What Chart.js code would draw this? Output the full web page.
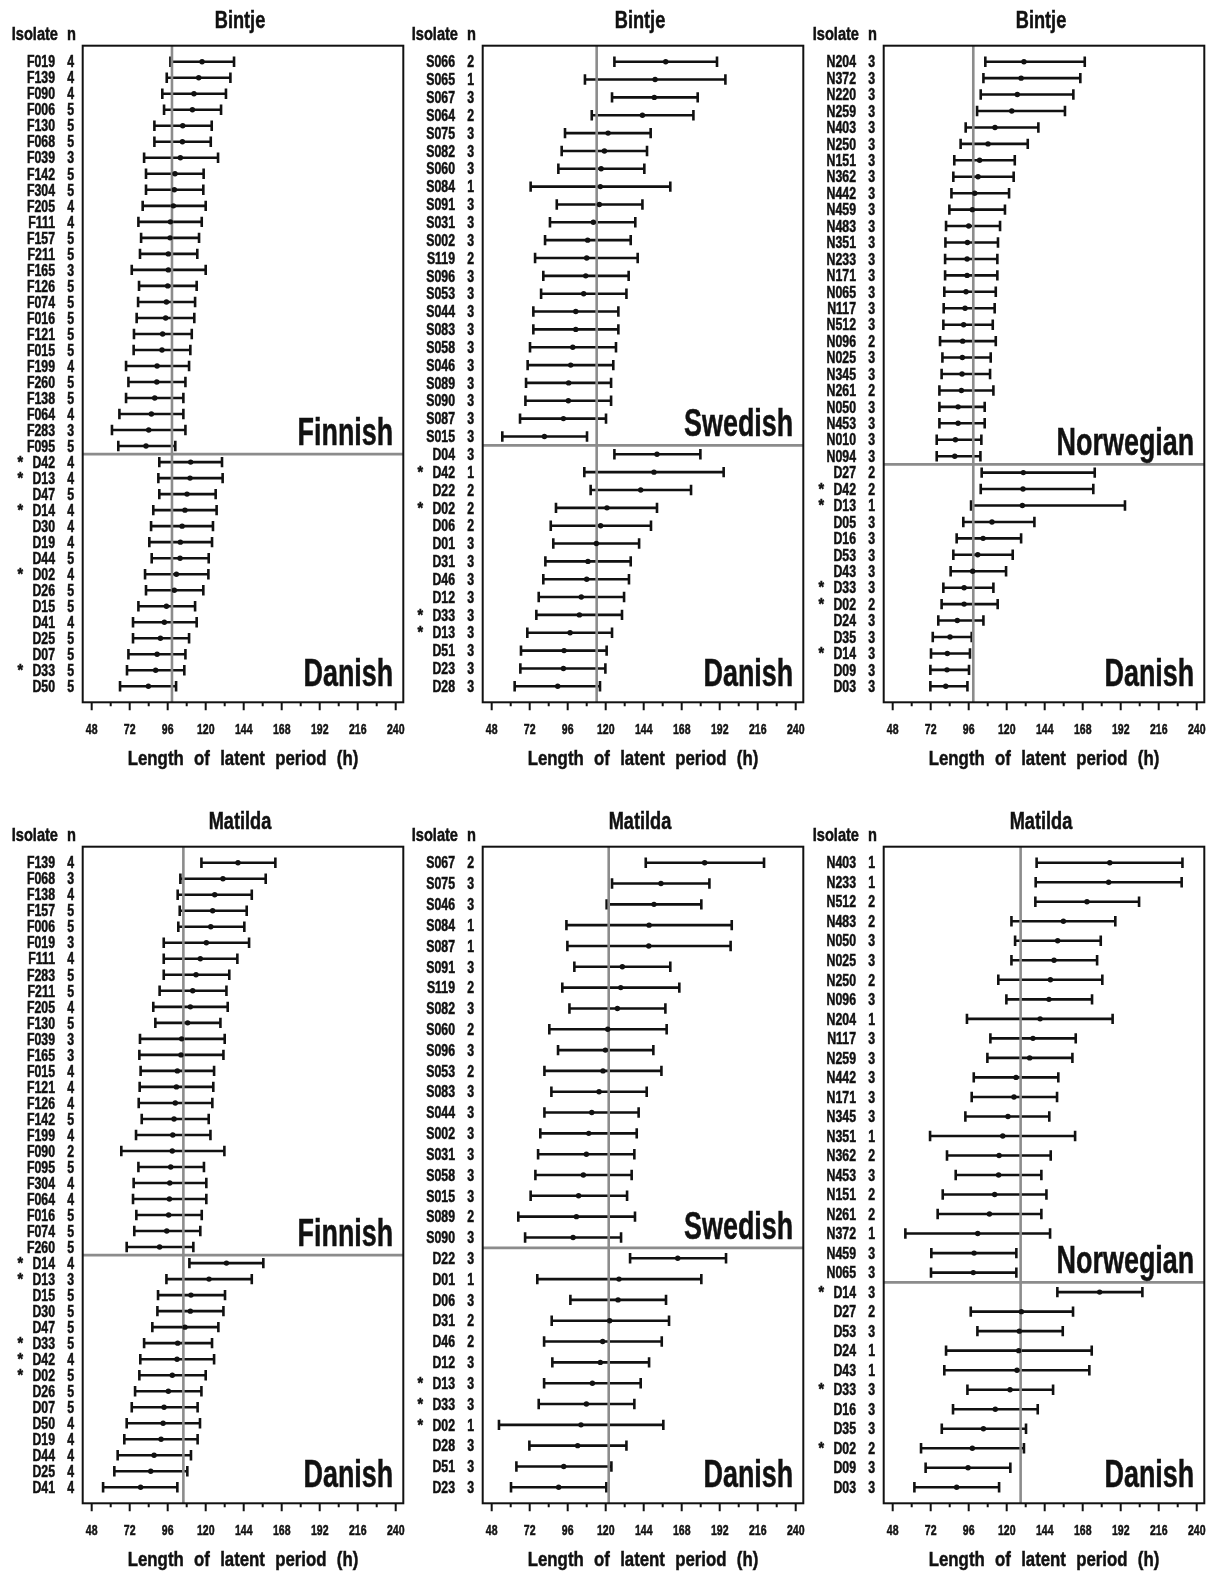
<!DOCTYPE html>
<html>
<head>
<meta charset="utf-8">
<script src="https://cdn.jsdelivr.net/npm/chart.js@4.4.0/dist/chart.umd.min.js"></script>
<style>
  body { margin: 0; background: #fff; width: 1219px; height: 1575px; overflow: hidden; position: relative; }
  canvas { position: absolute; }
</style>
</head>
<body>
<canvas id="p1" width="420" height="790" style="left:0px;top:0px"></canvas>
<canvas id="p2" width="420" height="790" style="left:400px;top:0px"></canvas>
<canvas id="p3" width="420" height="790" style="left:801px;top:0px"></canvas>
<canvas id="p4" width="420" height="790" style="left:0px;top:801px"></canvas>
<canvas id="p5" width="420" height="790" style="left:400px;top:801px"></canvas>
<canvas id="p6" width="420" height="790" style="left:801px;top:801px"></canvas>
<script>
// x axis ticks (hours)
const xTicks = [48, 72, 96, 120, 144, 168, 192, 216, 240];
const xMinorTicks = [60, 84, 108, 132, 156, 180, 204, 228];

// Bintje - Finnish / Danish
const bintjeFiIsolates = ['F019','F139','F090','F006','F130','F068','F039','F142','F304','F205','F111','F157','F211','F165','F126','F074','F016','F121','F015','F199','F260','F138','F064','F283','F095','* D42','* D13','D47','* D14','D30','D19','D44','* D02','D26','D15','D41','D25','D07','* D33','D50'];
const bintjeFiN = [4,4,4,5,5,5,3,5,5,4,4,5,5,3,5,5,5,5,5,4,5,5,4,3,5, 4,4,5,4,4,4,5,4,5,5,4,5,5,5,5];
const bintjeFiLow = [97.7,95.4,92.6,93.7,87.6,87.6,81.1,82.3,82.3,80.2,77.5,79.2,78.5,73.3,77.9,77.3,76.4,74.7,74.5,69.7,71.2,69.7,65.5,60.8,64.8, 90.7,90.1,90.7,86.9,85.5,84.4,85.9,81.7,82.3,77.5,74.1,74.1,71.2,70.3,65.9];
const bintjeFiMean = [117.7,115.6,112.6,111.6,105.5,105.3,104.0,100.6,100.2,99.6,97.7,97.5,96.4,96.4,96.0,95.2,94.7,92.8,92.4,89.3,89.1,87.8,85.7,84.0,82.3, 110.5,110.1,108.2,106.9,105.1,104.0,103.8,101.5,100.2,95.2,93.9,91.4,89.3,88.4,83.8];
const bintjeFiHigh = [137.9,135.6,132.8,129.7,123.8,123.2,127.8,118.7,118.5,120.0,117.5,115.8,114.7,120.0,114.3,113.3,112.8,111.2,110.3,109.5,107.2,105.9,105.9,107.2,100.8, 130.3,130.7,126.3,126.9,124.6,124.0,121.9,121.7,118.5,113.3,114.3,109.5,107.2,106.5,101.3];

// Bintje - Swedish / Danish
const bintjeSeIsolates = ['S066','S065','S067','S064','S075','S082','S060','S084','S091','S031','S002','S119','S096','S053','S044','S083','S058','S046','S089','S090','S087','S015','D04','* D42','D22','* D02','D06','D01','D31','D46','D12','* D33','* D13','D51','D23','D28'];
const bintjeSeN = [2,1,3,2,3,3,3,1,3,3,3,2,3,3,3,3,3,3,3,3,3,3, 3,1,2,2,2,3,3,3,3,3,3,3,3,3];
const bintjeSeLow = [125.5,106.9,124.0,111.2,94.3,92.2,90.1,72.6,89.1,84.8,81.7,75.4,80.6,79.2,74.3,74.3,72.2,70.7,69.7,69.3,65.9,54.7, 125.5,106.5,110.5,88.6,85.3,86.9,81.9,80.6,77.7,76.2,70.5,66.5,66.1,62.5];
const bintjeSeMean = [157.9,151.2,150.7,143.2,121.5,119.2,117.1,116.6,116.0,112.2,108.6,108.0,107.4,106.1,101.1,101.1,99.2,97.9,96.6,96.4,93.3,81.3, 152.4,150.5,142.1,120.8,116.8,114.1,108.8,108.0,104.6,103.4,97.5,93.7,93.3,89.7];
const bintjeSeHigh = [190.3,195.6,178.1,175.4,148.4,146.1,144.4,160.8,143.2,138.7,135.8,140.2,134.5,133.1,128.0,128.0,126.5,124.8,123.4,123.4,120.2,108.2, 179.8,194.5,173.9,152.4,148.6,141.1,135.8,134.7,131.6,130.3,124.0,120.6,119.8,116.4];

// Bintje - Norwegian / Danish
const bintjeNoIsolates = ['N204','N372','N220','N259','N403','N250','N151','N362','N442','N459','N483','N351','N233','N171','N065','N117','N512','N096','N025','N345','N261','N050','N453','N010','N094','D27','* D42','* D13','D05','D16','D53','D43','* D33','* D02','D24','D35','* D14','D09','D03'];
const bintjeNoN = [3,3,3,3,3,3,3,3,3,3,3,3,3,3,3,3,3,2,3,3,2,3,3,3,3, 2,2,1,3,3,3,3,3,2,3,3,3,3,3];
const bintjeNoLow = [106.5,105.3,103.6,101.3,94.1,90.9,86.9,86.3,85.1,83.8,81.7,81.3,81.1,81.1,80.6,80.2,80.0,77.9,79.4,78.9,77.5,77.5,77.5,75.8,75.8, 104.2,103.6,97.5,92.6,88.4,86.3,84.6,80.0,78.9,76.8,73.3,72.2,71.8,71.8];
const bintjeNoMean = [130.9,129.1,126.7,123.2,112.6,108.2,102.9,101.9,99.8,98.3,96.0,95.2,95.0,95.0,94.3,93.7,92.8,92.2,92.0,91.8,91.4,89.3,89.3,87.6,87.2, 130.5,130.3,129.9,110.7,105.1,101.7,98.5,93.1,93.1,88.8,84.2,82.5,82.3,81.5];
const bintjeNoHigh = [169.3,166.5,162.1,156.8,140.0,133.3,125.1,124.4,121.5,118.9,115.8,114.5,114.1,114.1,113.1,112.4,111.2,113.1,109.9,109.5,111.6,106.1,106.1,104.0,103.4, 175.6,174.7,194.7,137.5,129.1,123.8,119.6,111.6,114.3,105.3,97.9,96.8,96.2,95.2];

// Matilda - Finnish / Danish
const matildaFiIsolates = ['F139','F068','F138','F157','F006','F019','F111','F283','F211','F205','F130','F039','F165','F015','F121','F126','F142','F199','F090','F095','F304','F064','F016','F074','F260','* D14','* D13','D15','D30','D47','* D33','* D42','* D02','D26','D07','D50','D19','D44','D25','D41'];
const matildaFiN = [4,3,4,5,5,3,4,5,5,4,5,3,3,4,4,4,5,4,2,5,4,4,5,5,5, 4,3,5,5,5,5,4,5,5,5,4,4,4,4,4];
const matildaFiLow = [117.3,104.0,102.3,103.6,102.7,93.5,93.5,93.5,90.9,86.9,88.2,78.5,78.1,78.9,78.3,77.7,79.6,76.0,66.7,77.5,74.5,74.1,76.2,74.9,70.1, 109.7,95.2,89.9,89.5,86.3,81.1,78.7,78.1,75.4,73.3,70.1,68.6,64.4,62.3,55.2];
const matildaFiMean = [140.4,130.9,125.7,124.4,123.2,120.4,116.6,113.9,111.8,110.3,108.6,104.8,104.4,102.1,101.5,100.8,100.0,99.2,98.9,97.9,97.3,97.1,96.6,95.4,90.9, 133.1,122.1,110.7,110.3,106.9,102.3,101.9,98.9,96.4,93.7,93.1,91.8,87.4,85.3,78.9];
const matildaFiHigh = [164.0,157.9,149.1,145.9,144.4,147.4,140.0,134.9,133.1,133.9,129.3,132.0,131.2,125.3,124.8,124.2,121.9,123.0,131.8,118.9,120.4,120.4,117.5,116.6,112.2, 156.4,149.1,132.2,131.2,128.0,124.0,125.3,120.0,117.3,114.9,116.4,114.9,110.7,108.4,102.1];

// Matilda - Swedish / Danish
const matildaSeIsolates = ['S067','S075','S046','S084','S087','S091','S119','S082','S060','S096','S053','S083','S044','S002','S031','S058','S015','S089','S090','D22','D01','D06','D31','D46','D12','* D13','* D33','* D02','D28','D51','D23'];
const matildaSeN = [2,3,3,1,1,3,2,3,2,3,2,3,3,3,3,3,3,2,3, 3,1,3,2,2,3,3,3,1,3,3,3];
const matildaSeLow = [145.3,124.0,120.6,95.2,95.8,100.2,92.6,97.1,84.4,89.9,81.3,85.7,81.3,78.7,77.3,75.6,72.6,64.8,69.1, 135.4,76.8,97.7,85.9,81.1,86.3,81.1,77.7,52.6,71.8,63.6,60.2];
const matildaSeMean = [182.5,154.9,150.5,147.4,147.2,130.5,129.5,127.4,121.3,119.8,118.3,115.8,111.2,109.3,107.8,105.9,102.9,101.5,99.4, 165.5,128.4,127.8,122.5,118.1,116.6,111.6,107.8,104.4,102.3,93.5,90.3];
const matildaSeHigh = [220.0,185.5,180.4,199.6,198.9,160.8,166.5,157.7,158.5,150.1,155.2,145.9,140.8,139.6,138.1,136.4,133.5,138.5,129.7, 196.0,180.4,158.1,160.0,155.4,147.4,142.1,138.1,156.4,133.1,123.6,120.4];

// Matilda - Norwegian / Danish
const matildaNoIsolates = ['N403','N233','N512','N483','N050','N025','N250','N096','N204','N117','N259','N442','N171','N345','N351','N362','N453','N151','N261','N372','N459','N065','* D14','D27','D53','D24','D43','* D33','D16','D35','* D02','D09','D03'];
const matildaNoN = [1,1,2,2,3,3,2,3,1,3,3,3,3,3,1,2,3,2,2,1,3,3, 3,2,3,1,1,3,3,3,2,3,3];
const matildaNoLow = [138.9,138.3,138.1,123.0,125.3,123.0,114.7,119.8,94.9,109.7,107.8,99.2,97.9,93.9,71.6,82.3,87.8,79.6,76.4,56.0,72.4,72.2, 152.0,97.3,101.5,81.7,80.6,95.2,86.1,79.0,65.9,68.8,61.7];
const matildaNoMean = [185.1,184.4,170.7,155.8,152.2,149.9,147.6,146.7,141.1,136.6,134.5,125.9,124.6,120.8,117.5,115.2,114.9,112.4,109.1,101.7,99.4,98.9, 178.7,129.3,128.0,127.6,126.5,122.1,112.8,105.3,98.3,95.6,88.4];
const matildaNoHigh = [231.0,230.5,203.6,188.6,179.4,177.1,180.4,173.9,186.9,163.6,161.5,152.6,151.8,146.9,163.2,147.8,141.9,145.1,141.9,147.4,126.1,126.1, 205.7,161.9,155.4,173.7,172.2,149.3,139.6,132.2,130.9,122.3,115.2];

// overall means (grey vertical lines)
const refLines = [98.7, 114.3, 98.9, 105.9, 121.9, 128.8];

// Liberation Sans squeezed horizontally to look like the condensed face of the original
const FONT = '"Liberation Sans", Arial, sans-serif';
const INK = '#111';
const GREY = '#8c8c8c';
const BOX_TOP = 45.7, BOX_H = 656.6, BOX_L = 82.7, BOX_R = 403.3;
const CW = 420, CH = 790, XH = 60;

function txt(ctx, s, x, y, size, align, sx, wordSp) {
  ctx.save();
  ctx.translate(x, y);
  ctx.scale(sx, 1);
  ctx.font = 'bold ' + size + 'px ' + FONT;
  ctx.textAlign = align;
  ctx.textBaseline = 'alphabetic';
  if (wordSp) ctx.wordSpacing = wordSp;
  ctx.fillStyle = INK;
  ctx.strokeStyle = INK;
  ctx.lineWidth = 0.5;
  ctx.fillText(s, 0, 0);
  ctx.strokeText(s, 0, 0);
  ctx.restore();
}

function makePanel(id, p) {
  const rows = p.isolates.length;
  const pad = 16 * (rows - 1) / (BOX_H - 32);

  const panelPlugin = {
    id: 'panel_' + id,
    beforeDatasetsDraw(chart) {
      const { ctx, chartArea: a, scales: { x, y } } = chart;
      ctx.save();
      // whiskers with end caps
      ctx.strokeStyle = INK;
      ctx.lineWidth = 2.6;
      p.low.forEach((lo, i) => {
        const py = y.getPixelForValue(i);
        const x0 = x.getPixelForValue(lo);
        const x1 = x.getPixelForValue(p.high[i]);
        ctx.beginPath();
        ctx.moveTo(x0, py); ctx.lineTo(x1, py);
        ctx.moveTo(x0, py - 5.2); ctx.lineTo(x0, py + 5.2);
        ctx.moveTo(x1, py - 5.2); ctx.lineTo(x1, py + 5.2);
        ctx.stroke();
      });
      // mean line + group separator
      ctx.strokeStyle = GREY;
      ctx.lineWidth = 2.6;
      const rx = x.getPixelForValue(p.ref);
      const sy = y.getPixelForValue(p.split - 0.5);
      ctx.beginPath();
      ctx.moveTo(rx, a.top); ctx.lineTo(rx, a.bottom);
      ctx.moveTo(a.left, sy); ctx.lineTo(a.right, sy);
      ctx.stroke();
      ctx.restore();
    },
    afterDraw(chart) {
      const { ctx, chartArea: a, scales: { x, y } } = chart;
      ctx.save();
      ctx.strokeStyle = INK;
      ctx.lineWidth = 2;
      ctx.strokeRect(a.left, a.top, a.right - a.left, a.bottom - a.top);
      ctx.beginPath();
      xTicks.forEach(v => { const px = x.getPixelForValue(v); ctx.moveTo(px, a.bottom); ctx.lineTo(px, a.bottom + 8); });
      xMinorTicks.forEach(v => { const px = x.getPixelForValue(v); ctx.moveTo(px, a.bottom); ctx.lineTo(px, a.bottom + 4); });
      ctx.stroke();
      ctx.restore();

      // tick labels
      xTicks.forEach(v => txt(ctx, String(v), x.getPixelForValue(v), a.bottom + 31.5, 15.5, 'center', 0.68));
      // isolate names (star marked apart) and n column
      p.isolates.forEach((s, i) => {
        const py = y.getPixelForValue(i) + 5.7;
        const star = s.startsWith('* ');
        txt(ctx, star ? s.slice(2) : s, 55, py, 16, 'right', 0.77);
        if (star) txt(ctx, '*', 23, py, 16, 'right', 0.9);
        txt(ctx, String(p.n[i]), 74, py, 16, 'right', 0.77);
      });

      const cx = (a.left + a.right) / 2;
      txt(ctx, p.title, cx - 3, 28.3, 23, 'center', 0.79);
      txt(ctx, 'Isolate', 58, 39.5, 18.5, 'right', 0.79);
      txt(ctx, 'n', 76, 39.5, 18.5, 'right', 0.79);
      txt(ctx, 'Length of latent period (h)', cx, 765, 21, 'center', 0.8, '7px');

      const sy = y.getPixelForValue(p.split - 0.5);
      txt(ctx, p.groups[0], a.right - 10, sy - 9, 38.5, 'right', 0.7);
      txt(ctx, p.groups[1], a.right - 10, a.bottom - 16, 38.5, 'right', 0.7);
    }
  };

  return new Chart(document.getElementById(id), {
    type: 'scatter',
    data: {
      datasets: [{
        data: p.mean.map((m, i) => ({ x: m, y: i })),
        pointRadius: 2.7,
        pointHoverRadius: 2.7,
        pointBackgroundColor: INK,
        pointBorderWidth: 0
      }]
    },
    options: {
      responsive: false,
      animation: false,
      events: [],
      layout: { padding: { top: BOX_TOP, left: 0, right: CW - BOX_R, bottom: CH - (BOX_TOP + BOX_H) - XH } },
      plugins: { legend: { display: false }, tooltip: { enabled: false } },
      scales: {
        x: {
          type: 'linear',
          min: 42.32,
          max: 244.8,
          grid: { display: false, drawTicks: false },
          border: { display: false },
          afterBuildTicks: s => { s.ticks = xTicks.map(v => ({ value: v })); },
          afterFit: s => { s.height = XH; },
          ticks: { display: false }
        },
        y: {
          type: 'linear',
          reverse: true,
          min: -pad,
          max: rows - 1 + pad,
          grid: { display: false, drawTicks: false },
          border: { display: false },
          afterBuildTicks: s => { s.ticks = p.isolates.map((_, i) => ({ value: i })); },
          afterFit: s => { s.width = BOX_L; },
          ticks: { display: false }
        }
      }
    },
    plugins: [panelPlugin]
  });
}

makePanel('p1', { title: 'Bintje', groups: ['Finnish', 'Danish'], split: 25, ref: refLines[0],
  isolates: bintjeFiIsolates, n: bintjeFiN, low: bintjeFiLow, mean: bintjeFiMean, high: bintjeFiHigh });
makePanel('p2', { title: 'Bintje', groups: ['Swedish', 'Danish'], split: 22, ref: refLines[1],
  isolates: bintjeSeIsolates, n: bintjeSeN, low: bintjeSeLow, mean: bintjeSeMean, high: bintjeSeHigh });
makePanel('p3', { title: 'Bintje', groups: ['Norwegian', 'Danish'], split: 25, ref: refLines[2],
  isolates: bintjeNoIsolates, n: bintjeNoN, low: bintjeNoLow, mean: bintjeNoMean, high: bintjeNoHigh });
makePanel('p4', { title: 'Matilda', groups: ['Finnish', 'Danish'], split: 25, ref: refLines[3],
  isolates: matildaFiIsolates, n: matildaFiN, low: matildaFiLow, mean: matildaFiMean, high: matildaFiHigh });
makePanel('p5', { title: 'Matilda', groups: ['Swedish', 'Danish'], split: 19, ref: refLines[4],
  isolates: matildaSeIsolates, n: matildaSeN, low: matildaSeLow, mean: matildaSeMean, high: matildaSeHigh });
makePanel('p6', { title: 'Matilda', groups: ['Norwegian', 'Danish'], split: 22, ref: refLines[5],
  isolates: matildaNoIsolates, n: matildaNoN, low: matildaNoLow, mean: matildaNoMean, high: matildaNoHigh });
</script>
</body>
</html>
